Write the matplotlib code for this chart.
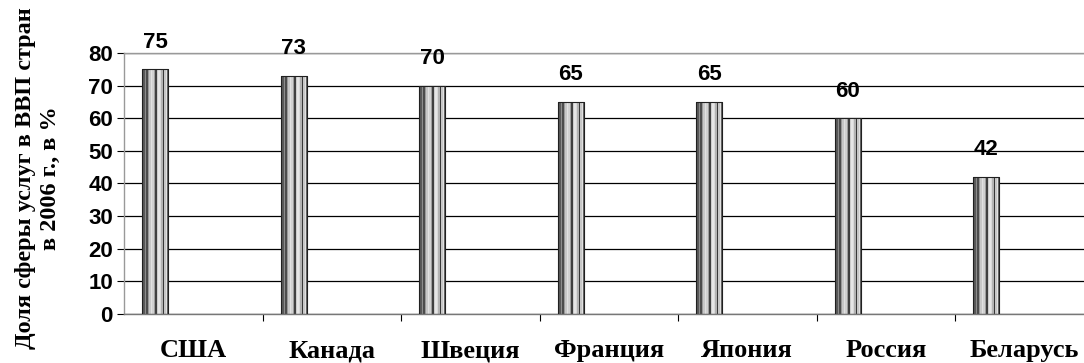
import numpy as np
import matplotlib
matplotlib.use('Agg')
import matplotlib.pyplot as plt

# Data.
countries = ['США', 'Канада', 'Швеция', 'Франция', 'Япония', 'Россия', 'Беларусь']
shares = [75, 73, 70, 65, 65, 60, 42]
yticks = [0, 10, 20, 30, 40, 50, 60, 70, 80]

# Grey levels across a bar, left to right (cylinder-like stripes).
STRIPES = [0.20, 0.35, 0.55, 0.30, 0.60, 0.78, 0.88, 0.82, 0.62,
           0.25, 0.80, 0.90, 0.85, 0.70, 0.22, 0.78, 0.88, 0.40]

BAR_W = 0.19
BAR_SHIFT = -0.275

fig = plt.figure(figsize=(10.84, 3.63), dpi=100)
ax = fig.add_axes([0.1144, 0.135, 0.8945, 0.719])

x = np.arange(len(countries))
bars = ax.bar(x + BAR_SHIFT, shares, width=BAR_W, color='none',
              edgecolor='#202020', linewidth=0.8, zorder=3)

# Striped fill clipped to each bar.
strip = np.array(STRIPES)[None, :]
for b in bars:
    x0, y0 = b.get_x(), b.get_y()
    im = ax.imshow(strip, cmap='gray', vmin=0, vmax=1, aspect='auto',
                   extent=[x0, x0 + b.get_width(), y0, y0 + b.get_height()],
                   interpolation='nearest', zorder=2)
    im.set_clip_path(b)

for xi, v in zip(x, shares):
    ax.annotate(str(v), (xi + BAR_SHIFT, v), xytext=(0, 19.5),
                textcoords='offset points', ha='center', va='center',
                fontsize=16, fontweight='bold', family='Liberation Sans')

ax.set_xlim(-0.5, len(countries) - 0.5)
ax.set_ylim(0, 80)
ax.set_yticks(yticks)
ax.set_yticklabels([str(t) for t in yticks], fontsize=16,
                   fontweight='bold', family='Liberation Sans')
ax.yaxis.grid(True, color='#000000', linewidth=0.9)
ax.set_axisbelow(True)

# Country names sit on a common baseline under the axis.
ax.set_xticks(x)
ax.set_xticklabels([])
for xi, name in zip(x, countries):
    ax.text(xi, -0.165, name, transform=ax.get_xaxis_transform(),
            ha='center', va='baseline', fontsize=19, fontweight='bold',
            family='Liberation Serif')
ax.set_xticks(np.arange(0.5, len(countries) - 0.5, 1), minor=True)
ax.tick_params(axis='x', which='major', length=0)
ax.tick_params(axis='x', which='minor', length=5, color='#000000', width=0.8)
ax.tick_params(axis='y', length=5, color='#000000', width=0.8, pad=3)

for side in ['left', 'top', 'bottom']:
    ax.spines[side].set_color('#999999')
    ax.spines[side].set_linewidth(1.0)
ax.spines['bottom'].set_color('#777777')
ax.spines['right'].set_visible(False)

fig.text(0.035, 0.51, 'Доля сферы услуг в ВВП стран\nв 2006 г., в %',
         rotation=90, ha='center', va='center', fontsize=17.5,
         fontweight='bold', family='Liberation Serif', linespacing=1.2)

fig.savefig('out.png', dpi=100)
